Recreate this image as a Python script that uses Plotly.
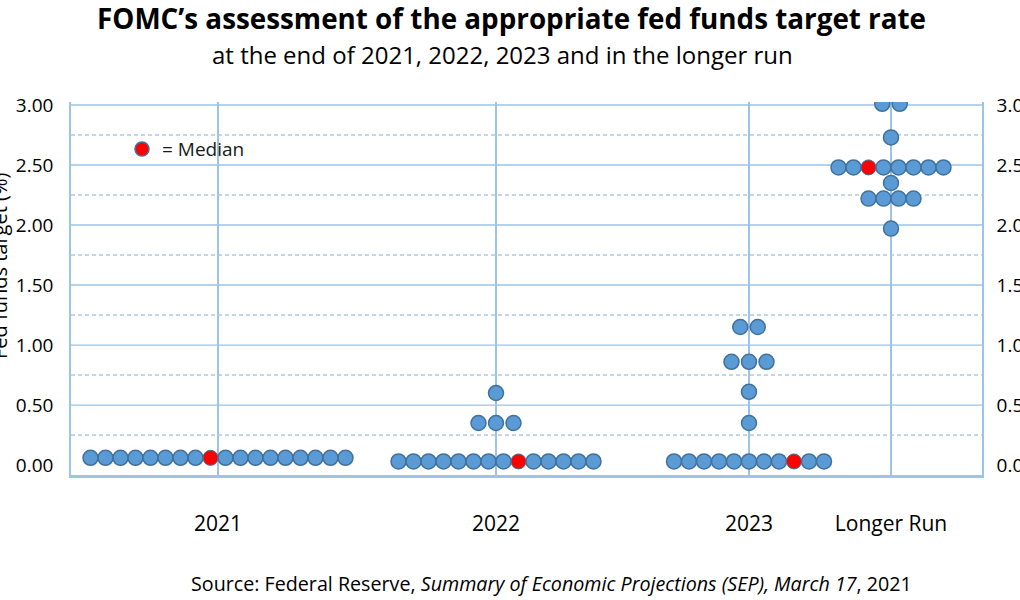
import plotly.graph_objects as go

# ---------------- data ----------------
categories = ["2021", "2022", "2023", "Longer Run"]

levels_2021 = [0.06]
counts_2021 = [18]
median_2021 = (0, 8)          # (row index, dot index) of the median dot

levels_2022 = [0.03, 0.35, 0.60]
counts_2022 = [14, 3, 1]
median_2022 = (0, 8)

levels_2023 = [0.03, 0.35, 0.61, 0.86, 1.15]
counts_2023 = [11, 1, 1, 3, 2]
median_2023 = (0, 8)

levels_lr = [1.97, 2.22, 2.35, 2.48, 2.73, 3.01]
counts_lr = [1, 4, 1, 8, 1, 2]
median_lr = (3, 2)

y_ticks = [0.0, 0.5, 1.0, 1.5, 2.0, 2.5, 3.0]
y_ticktext = ["0.00", "0.50", "1.00", "1.50", "2.00", "2.50", "3.00"]
major_grid = [0.5, 1.0, 1.5, 2.0, 2.5, 3.0]
minor_grid = [0.25, 0.75, 1.25, 1.75, 2.25, 2.75]

title = "FOMC’s assessment of the appropriate fed funds target rate"
subtitle = "at the end of 2021, 2022, 2023 and in the longer run"
source = ("Source: Federal Reserve, <i>Summary of Economic Projections (SEP), "
          "March 17</i>, 2021")
y_title = "Fed funds target (%)"

# ---------------- layout constants ----------------
W, H = 1020, 600
ML, MR, MT, MB = 71, 38, 102, 125
XMAX = W - ML - MR
PH = H - MT - MB
CAT_POS = [147, 425, 678, 820]       # horizontal centre of each category (x-axis units)
STEP_LONG, STEP_SHORT = 15.0, 17.5
Y_RANGE = [-0.083, 3.025]
BLUE = "#5B9BD5"
EDGE = "#41719C"
GRID = "#9DC3E6"
DASH = "#7FAEDD"
FONT = "Open Sans"


def px_x(p):
    return (p - ML) / XMAX


def px_y(p):
    return (H - MB - p) / PH


groups = [
    (levels_2021, counts_2021, median_2021),
    (levels_2022, counts_2022, median_2022),
    (levels_2023, counts_2023, median_2023),
    (levels_lr, counts_lr, median_lr),
]

fig = go.Figure()

bx, by, rx, ry = [], [], [], []
for cpos, (levels, counts, med) in zip(CAT_POS, groups):
    for ri, (lv, n) in enumerate(zip(levels, counts)):
        step = STEP_LONG if n > 3 else STEP_SHORT
        start = cpos - step * (n - 1) / 2
        for k in range(n):
            xx = start + k * step
            if (ri, k) == med:
                rx.append(xx); ry.append(lv)
            else:
                bx.append(xx); by.append(lv)

fig.add_trace(go.Scatter(x=bx, y=by, mode="markers", hoverinfo="skip",
                         marker=dict(size=15, color=BLUE, line=dict(color=EDGE, width=1.5)),
                         showlegend=False))
fig.add_trace(go.Scatter(x=rx, y=ry, mode="markers", hoverinfo="skip",
                         marker=dict(size=15, color="#FF0000", line=dict(color=EDGE, width=1)),
                         showlegend=False))
# legend key
fig.add_trace(go.Scatter(x=[71], y=[2.633], mode="markers", hoverinfo="skip",
                         marker=dict(size=14, color="#FF0000", line=dict(color=EDGE, width=1.5)),
                         showlegend=False))
fig.add_annotation(x=89, y=2.633, xref="x", yref="y", text="= Median", showarrow=False,
                   xanchor="left", yanchor="middle", font=dict(size=19, color="#1a1a1a", family=FONT))
# invisible trace for right axis
fig.add_trace(go.Scatter(x=[0], y=[0], yaxis="y2", mode="markers",
                         marker=dict(opacity=0), hoverinfo="skip", showlegend=False))

for v in major_grid:
    fig.add_shape(type="line", xref="paper", yref="y", x0=0, x1=1, y0=v, y1=v,
                  line=dict(color=GRID, width=1.3), layer="below")
for v in minor_grid:
    fig.add_shape(type="line", xref="paper", yref="y", x0=0, x1=1, y0=v, y1=v,
                  line=dict(color=DASH, width=1, dash="4px,3px"), layer="below")

fig.add_annotation(x=px_x(511), y=px_y(18), xref="paper", yref="paper",
                   text="<b>" + title + "</b>", showarrow=False, xanchor="center", yanchor="middle",
                   font=dict(size=27.8, color="black", family=FONT))
fig.add_annotation(x=px_x(502), y=px_y(55), xref="paper", yref="paper",
                   text=subtitle, showarrow=False, xanchor="center", yanchor="middle",
                   font=dict(size=24, color="black", family=FONT))
fig.add_annotation(x=px_x(551), y=px_y(583), xref="paper", yref="paper",
                   text=source, showarrow=False, xanchor="center", yanchor="middle",
                   font=dict(size=19.7, color="black", family=FONT))
fig.add_annotation(x=px_x(-1), y=px_y(266), xref="paper", yref="paper",
                   text=y_title, showarrow=False, textangle=-90, xanchor="center", yanchor="middle",
                   font=dict(size=20, color="black", family=FONT))

fig.update_layout(
    width=W, height=H,
    margin=dict(l=ML, r=MR, t=MT, b=MB, autoexpand=False),
    plot_bgcolor="white", paper_bgcolor="white",
    font=dict(family=FONT, color="black"),
    xaxis=dict(range=[0, XMAX], tickvals=CAT_POS, ticktext=categories, automargin=False,
               showgrid=True, gridcolor=GRID, gridwidth=1.5, zeroline=False,
               showline=True, linecolor=GRID, linewidth=2.5,
               ticks="", ticklabelstandoff=28, tickfont=dict(size=21, color="black")),
    yaxis=dict(range=Y_RANGE, tickvals=y_ticks, ticktext=y_ticktext, showgrid=False,
               automargin=False,
               zeroline=False, showline=True, linecolor=GRID, linewidth=1.5,
               ticks="", ticklabelstandoff=12, tickfont=dict(size=19, color="black")),
    yaxis2=dict(range=Y_RANGE, tickvals=y_ticks, ticktext=y_ticktext, overlaying="y",
                automargin=False,
                side="right", showgrid=False, zeroline=False, showline=True,
                linecolor=GRID, linewidth=1.5, ticks="", ticklabelstandoff=9,
                tickfont=dict(size=19, color="black")),
)

fig.write_html("out.html", config={"displayModeBar": False},
               post_script="document.body.style.margin='0';")
